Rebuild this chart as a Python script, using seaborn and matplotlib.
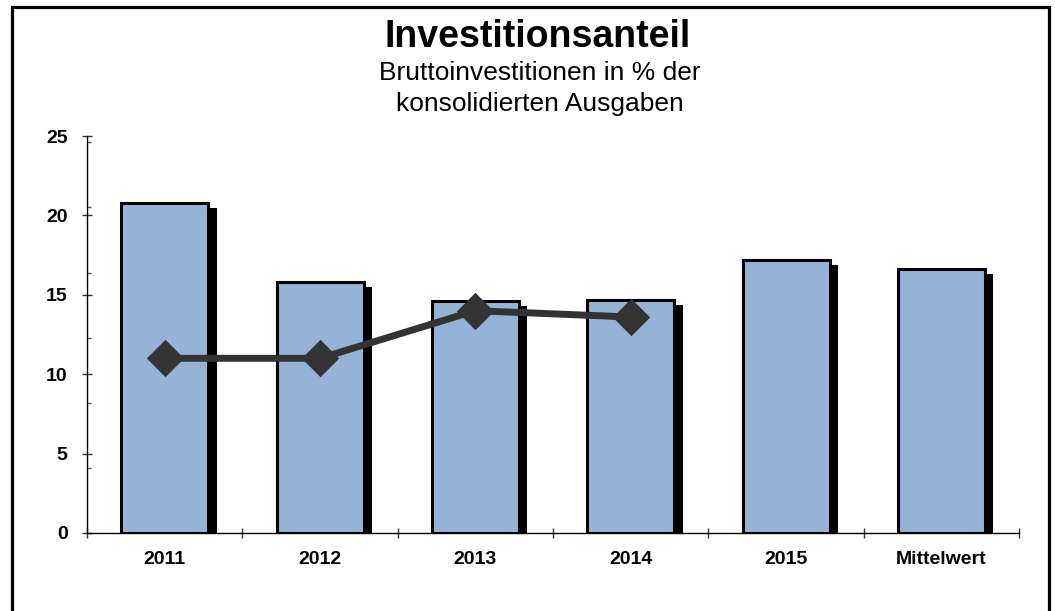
"""
Investitionsanteil: Bruttoinvestitionen in % der konsolidierten Ausgaben.
Bars per year plus the mean, with a comparison line for 2011-2014.
"""

import numpy as np
import pandas as pd
import matplotlib
matplotlib.use('Agg')
import matplotlib.pyplot as plt
from matplotlib.patches import Rectangle
import seaborn as sns

# Data
categories = ['2011', '2012', '2013', '2014', '2015', 'Mittelwert']
anteil = [20.8, 15.8, 14.6, 14.7, 17.2, 16.6]
line_categories = ['2011', '2012', '2013', '2014']
line_values = [11.0, 11.0, 14.0, 13.6]
y_ticks = [0, 5, 10, 15, 20, 25]
y_minor = [4.1, 8.2, 12.3, 16.4, 20.5, 24.6]

title = 'Investitionsanteil'
subtitle_1 = 'Bruttoinvestitionen in % der'
subtitle_2 = 'konsolidierten Ausgaben'

BAR_COLOR = '#95B3D7'
LINE_COLOR = '#333333'

sns.set_theme(style='white')
plt.rcParams['font.family'] = ['Liberation Sans', 'DejaVu Sans']

bars = pd.DataFrame({'kategorie': categories, 'anteil': anteil})
line = pd.DataFrame({'kategorie': line_categories, 'wert': line_values})

fig = plt.figure(figsize=(10.55, 6.11), dpi=100)
ax = fig.add_axes([0.0825, 0.1277, 0.8834, 0.6497])

# drop shadow behind the bars
pos = np.arange(len(categories))
ax.bar(pos + 0.047, np.array(anteil) - 0.32, width=0.575, color='black',
       linewidth=0, zorder=2)

sns.barplot(data=bars, x='kategorie', y='anteil', order=categories,
            color=BAR_COLOR, saturation=1, edgecolor='black', linewidth=2.2,
            width=0.56, ax=ax, zorder=3)

sns.pointplot(data=line, x='kategorie', y='wert', order=categories,
              color=LINE_COLOR, markers='D', errorbar=None, ax=ax,
              linewidth=5, markersize=15, zorder=5)

ax.set_xlim(-0.5, len(categories) - 0.5)
ax.set_ylim(0, 25)
ax.set_xlabel('')
ax.set_ylabel('')

# axes styling
for side in ['top', 'right']:
    ax.spines[side].set_visible(False)
for side in ['left', 'bottom']:
    ax.spines[side].set_color('black')
    ax.spines[side].set_linewidth(1)

ax.set_yticks(y_ticks)
ax.set_yticks(y_minor, minor=True)
ax.tick_params(axis='y', which='major', direction='inout', length=7,
               width=1, color='#333333', left=True, pad=10.5, labelsize=14)
ax.tick_params(axis='y', which='minor', direction='in', length=3,
               width=1, color='#555555', left=True)
ax.set_xticks(pos)
ax.set_xticklabels(categories)
ax.set_xticks(np.arange(len(categories) + 1) - 0.5, minor=True)
ax.tick_params(axis='x', which='major', length=0, pad=13, labelsize=14)
ax.tick_params(axis='x', which='minor', direction='inout', length=7,
               width=1, color='#333333', bottom=True)
for lbl in ax.get_xticklabels() + ax.get_yticklabels():
    lbl.set_fontweight('bold')
    lbl.set_color('black')
ax.grid(False)

# titles
fig.text(0.51, 1 - 47 / 611, title, ha='center', va='baseline',
         fontsize=27, fontweight='bold', color='black')
fig.text(0.512, 1 - 80 / 611, subtitle_1, ha='center', va='baseline',
         fontsize=19, color='black')
fig.text(0.512, 1 - 111 / 611, subtitle_2, ha='center', va='baseline',
         fontsize=19, color='black')

# outer frame (runs off the bottom edge like the reference)
frame = Rectangle((11.5 / 1055, -0.1), 1037 / 1055, 1.1 - 7.5 / 611,
                  transform=fig.transFigure, fill=False, edgecolor='black',
                  linewidth=2.3, clip_on=False)
fig.patches.append(frame)

fig.savefig('out.png', dpi=100)
